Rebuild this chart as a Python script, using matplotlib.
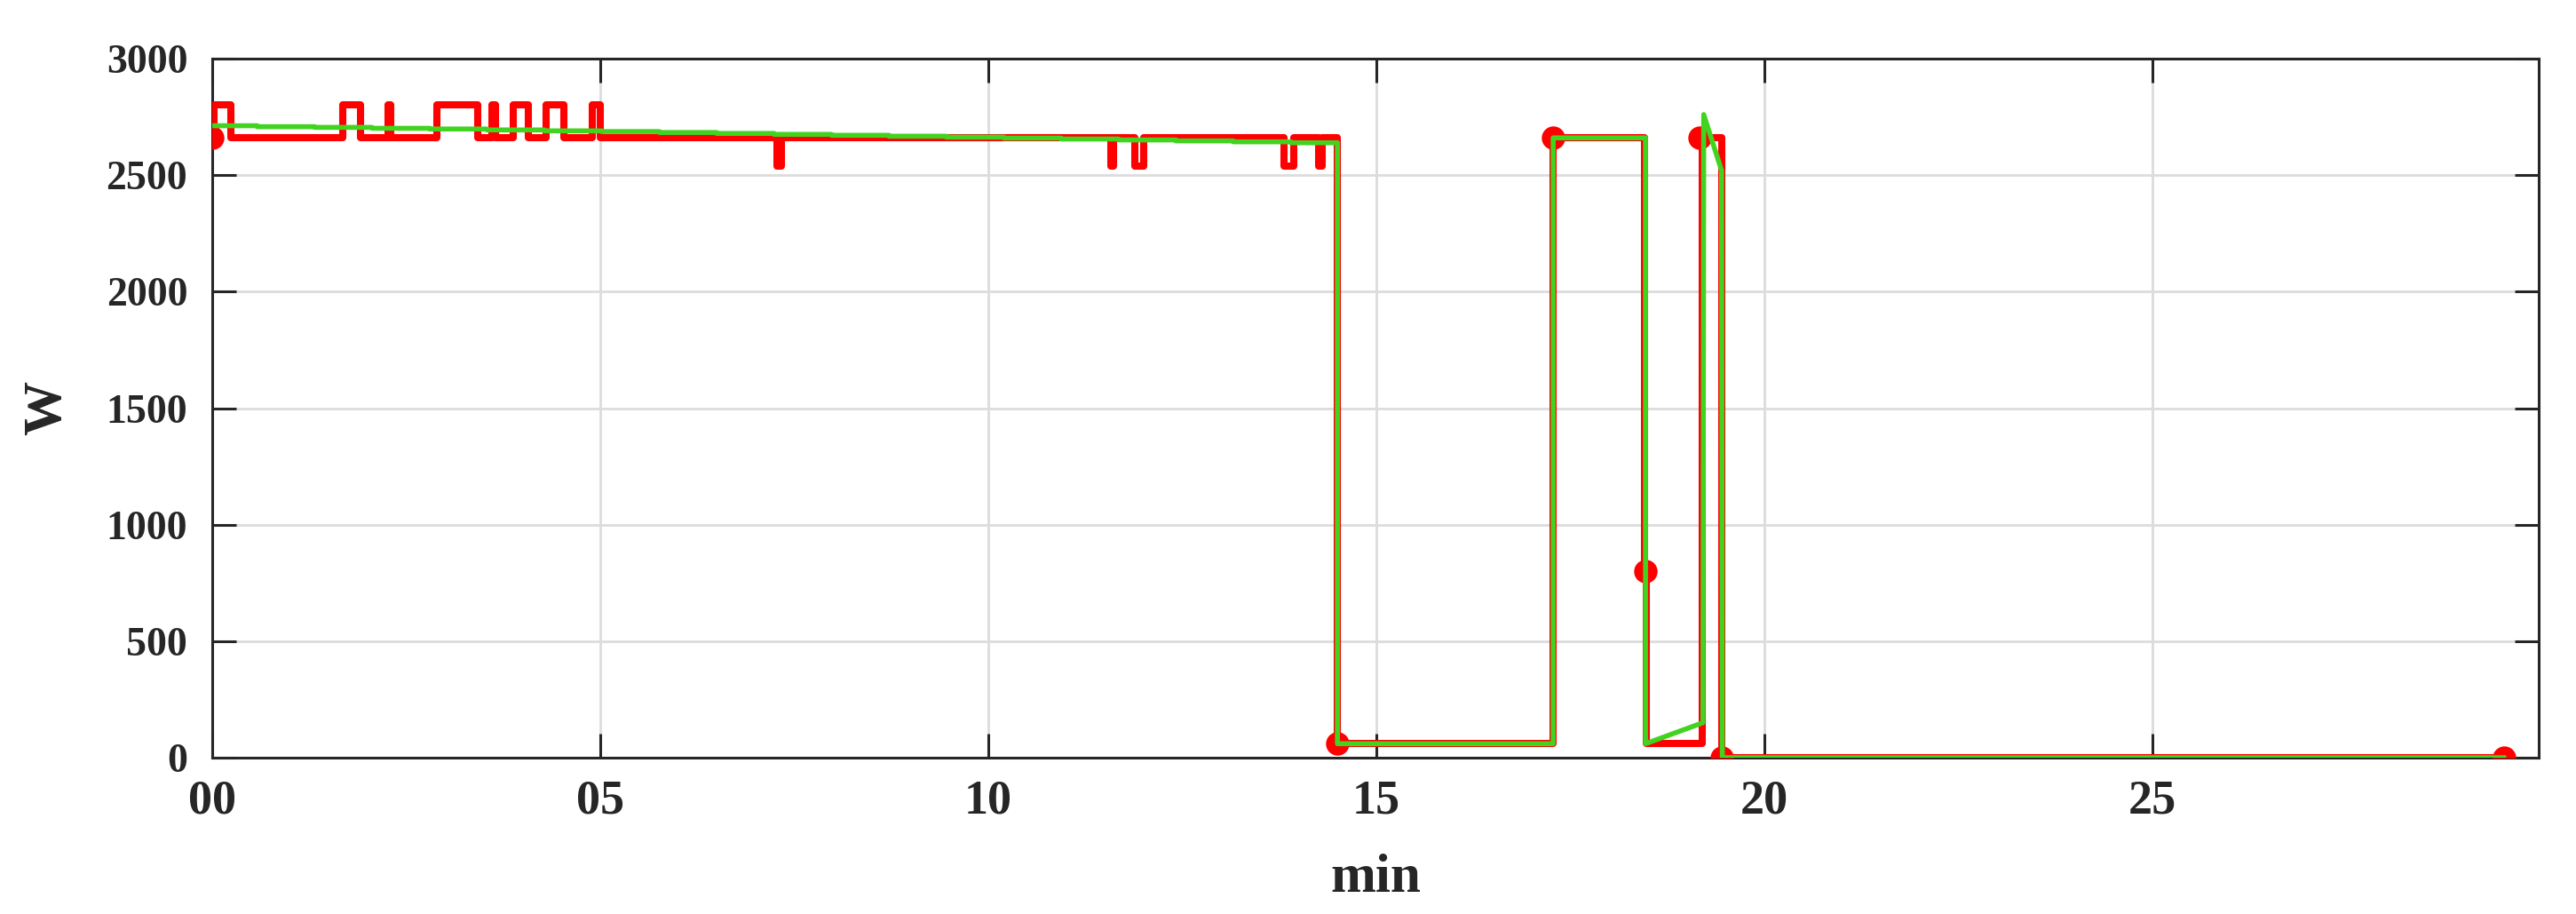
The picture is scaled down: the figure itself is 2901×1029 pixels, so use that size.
import numpy as np
import matplotlib
matplotlib.use("Agg")
import matplotlib.pyplot as plt

# ---------------- data ----------------
# red measured power: change times (min) and value after change (W)
red_t = [0.00, 0.02, 0.24, 1.68, 1.91, 2.265, 2.295, 2.89, 3.42, 3.60, 3.65,
         3.88, 4.07, 4.30, 4.53, 4.90, 5.00, 7.28, 7.34, 11.58, 11.62,
         11.89, 12.00, 13.81, 13.94, 14.26, 14.30, 14.50, 17.28, 18.46,
         18.48, 19.20, 19.45, 29.53]
red_w = [2660, 2800, 2660, 2800, 2660, 2800, 2660, 2800, 2660, 2800, 2660,
         2800, 2660, 2800, 2660, 2800, 2660, 2540, 2660, 2540, 2660,
         2540, 2660, 2540, 2660, 2540, 2660, 60, 2660, 800,
         60, 2660, 0, 0]
# red sample markers
red_dot_t = [0.00, 14.50, 17.28, 18.47, 19.17, 19.45, 29.53]
red_dot_w = [2660, 60, 2660, 800, 2660, 0, 0]

# green estimate: staircase part (segment start times, values)
green_step_t = [0.00, 0.58, 1.32, 2.06, 2.80, 3.54, 4.28, 5.02, 5.76, 6.50,
                7.24, 7.98, 8.72, 9.46, 10.20, 10.94, 11.68, 12.42, 13.16, 13.90]
green_step_w = [2712, 2708, 2705, 2701, 2698, 2694, 2690, 2687, 2683, 2679,
                2675, 2671, 2667, 2663, 2659, 2655, 2651, 2647, 2643, 2639]
# green estimate: remaining vertices
green_tail_t = [14.50, 14.50, 17.28, 17.28, 18.47, 18.47, 19.21, 19.22, 19.45, 19.46, 29.53]
green_tail_w = [2639, 60, 60, 2660, 2660, 60, 150, 2760, 2520, 0, 0]

x_ticks = [0, 5, 10, 15, 20, 25]
x_ticklabels = ["00", "05", "10", "15", "20", "25"]
y_ticks = [0, 500, 1000, 1500, 2000, 2500, 3000]

# ---------------- plot ----------------
plt.rcParams['font.family'] = ['Liberation Serif', 'DejaVu Serif']
plt.rcParams['font.weight'] = 'bold'

fig = plt.figure(figsize=(14.505, 5.145), dpi=200)
ax = fig.add_axes([239 / 2901, 1 - 853 / 1029, (2859 - 239) / 2901, (853 - 66) / 1029])

ink = '#262626'
red = '#FF0000'
green = '#42D320'

ax.plot(red_t, red_w, drawstyle='steps-post', color=red, lw=2.9, zorder=3,
        solid_joinstyle='round')
ax.plot(red_dot_t, red_dot_w, 'o', color=red, ms=8.5, zorder=3)

gx = []
gy = []
for i in range(len(green_step_t)):
    end = green_step_t[i + 1] if i + 1 < len(green_step_t) else green_tail_t[0]
    gx += [green_step_t[i], end]
    gy += [green_step_w[i], green_step_w[i]]
gx += green_tail_t
gy += green_tail_w
ax.plot(gx, gy, color=green, lw=2.0, zorder=4)

ax.set_xlim(0, 29.98)
ax.set_ylim(0, 3000)
ax.set_xticks(x_ticks)
ax.set_xticklabels(x_ticklabels)
ax.set_yticks(y_ticks)
ax.grid(True, color='#DCDCDC', lw=1.0)
ax.set_axisbelow(True)

for s in ax.spines.values():
    s.set_color(ink)
    s.set_linewidth(1.1)

ax.tick_params(axis='both', which='both', direction='in', length=9.7, width=1.1,
               color=ink, labelcolor=ink, top=True, right=True)
ax.tick_params(axis='y', pad=10, labelsize=16.5)
ax.tick_params(axis='x', pad=9, labelsize=19.5)

ax.set_xlabel('min', fontsize=22, fontweight='bold', color=ink, labelpad=12)
ax.set_ylabel('W', fontsize=22, fontweight='bold', color=ink, labelpad=14)

fig.savefig('out.png', dpi=200)
